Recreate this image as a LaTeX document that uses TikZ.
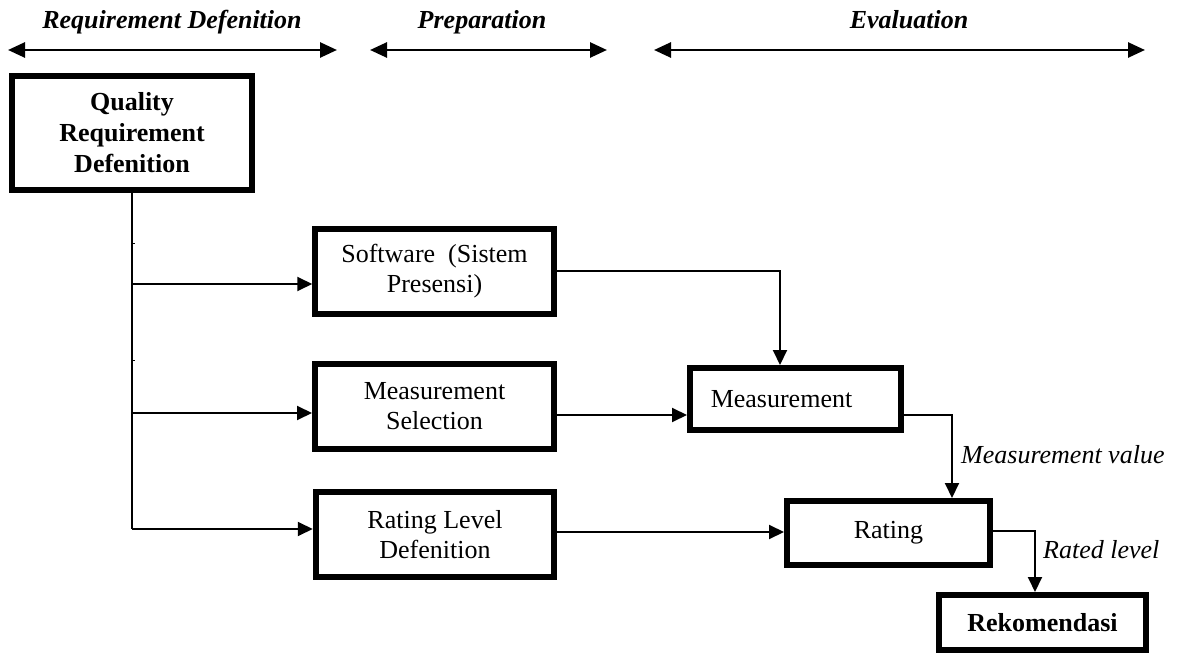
\documentclass[tikz,border=0pt]{standalone}
\usepackage{fontspec}
\setmainfont{Liberation Serif}
\usetikzlibrary{arrows.meta,calc}
\begin{document}
\begin{tikzpicture}[x=1pt,y=-1pt,
  box/.style={draw,line width=6pt,inner sep=0pt,align=center,
    font=\fontsize{26}{30}\selectfont},
  conn/.style={line width=2pt,-{Triangle[length=15pt,width=14pt]}},
  plain/.style={line width=2pt},
  hdr/.style={line width=2.7pt,{Triangle[length=17pt,width=15pt]}-{Triangle[length=17pt,width=15pt]}},
  hlabel/.style={font=\fontsize{26}{30}\selectfont\bfseries\itshape,inner sep=0pt,anchor=base},
  flabel/.style={font=\fontsize{26}{30}\selectfont\itshape,inner sep=0pt,anchor=base west}]
\useasboundingbox (0,0) rectangle (1179,655);

% headers
\node[hlabel] (hRD) at (172,29) {Requirement Defenition};
\node[hlabel] (hPR) at (482,29) {Preparation};
\node[hlabel] (hEV) at (909,29) {Evaluation};
\coordinate (a1) at (8,50);   \coordinate (b1) at (337,50);
\coordinate (a2) at (370,50); \coordinate (b2) at (607,50);
\coordinate (a3) at (654,50); \coordinate (b3) at (1145,50);
\draw[hdr] (a1) -- (b1);
\draw[hdr] (a2) -- (b2);
\draw[hdr] (a3) -- (b3);

% boxes
\node[box,minimum width=240pt,minimum height=114pt,font=\fontsize{26}{31}\selectfont\bfseries] (Q) at (132,133) {Quality\\Requirement\\Defenition};
\node[box,minimum width=238.5pt,minimum height=85pt] (SW) at (434.5,271.5) {Software\ \ (Sistem\\Presensi)};
\node[box,minimum width=239pt,minimum height=85.5pt] (MS) at (434.5,406.5) {Measurement\\Selection};
\node[box,minimum width=238.5pt,minimum height=85.5pt] (RLD) at (435,534.5) {Rating Level\\Defenition};
\node[box,minimum width=211pt,minimum height=62pt] (M) at (795.5,399) {Measurement\hspace{28pt}};
\node[box,minimum width=203pt,minimum height=64pt] (R) at (888.5,533) {Rating};
\node[box,minimum width=207pt,minimum height=55pt,font=\fontsize{26}{30}\selectfont\bfseries] (Rek) at (1042.5,622.5) {Rekomendasi};

% tree from Quality Requirement Defenition
\coordinate (t0) at (Q.south);
\coordinate (j1) at ($(Q.south |- SW.west)+(0,12.5)$);
\coordinate (j2) at ($(Q.south |- MS.west)+(0,6.5)$);
\coordinate (j3) at ($(Q.south |- RLD.west)+(0,-5.5)$);
\draw[plain] (t0) -- (j3);
\draw[conn] (j1) -- (j1 -| SW.west);
\draw[conn] (j2) -- (j2 -| MS.west);
\draw[conn] (j3) -- (j3 -| RLD.west);
% small ticks on the trunk
\coordinate (k1) at ($(Q.south)+(1,51)$);
\coordinate (k2) at ($(Q.south)+(1,167)$);
\draw[line width=1pt] (k1) -- ++(2,0);
\draw[line width=1pt] (k2) -- ++(2,0);

% preparation to evaluation
\draw[conn] (SW.east) -| ($(M.north)+(-15.5,0)$);
\coordinate (m1) at ($(MS.east)+(0,8.5)$);
\draw[conn] (m1) -- (m1 -| M.west);
\coordinate (r1) at ($(RLD.east)+(0,-2.5)$);
\draw[conn] (r1) -- (r1 -| R.west);

% evaluation chain
\coordinate (m2) at ($(M.east)+(0,16)$);
\coordinate (c1) at ($(R.north)+(63.5,0)$);
\draw[conn] (m2) -| (c1);
\coordinate (r2) at ($(R.east)+(0,-2)$);
\coordinate (c2) at ($(Rek.north)+(-7.5,0)$);
\draw[conn] (r2) -| (c2);

\node[flabel] (lMV) at (961,463) {Measurement value};
\node[flabel] (lRL) at (1043,558) {Rated level};
\end{tikzpicture}
\end{document}
